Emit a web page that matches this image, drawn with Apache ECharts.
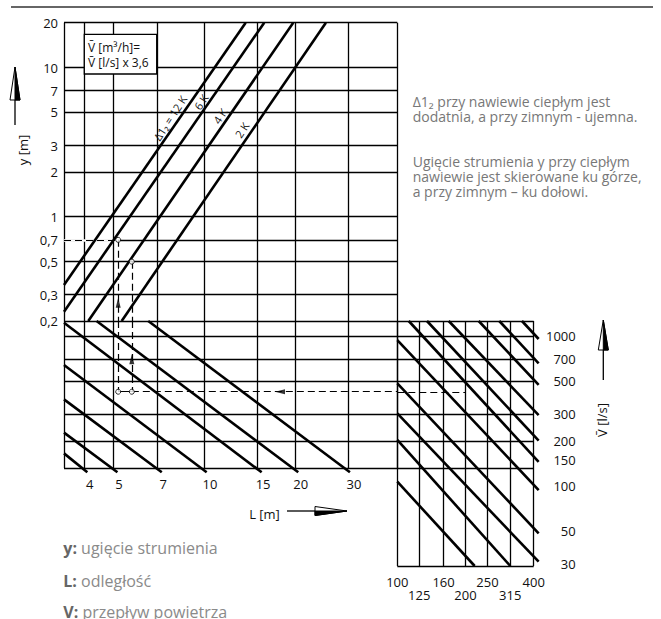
<!DOCTYPE html>
<html><head><meta charset="utf-8">
<script src="https://cdn.jsdelivr.net/npm/echarts@6/dist/echarts.min.js"></script>
<style>html,body{margin:0;padding:0;background:#fff}#c{width:661px;height:619px}</style>
</head><body><div id="c"></div>
<script>
// ---------------- data ----------------
// upper panel: deflection y [m] vs distance L [m]
const lTicks = [4, 5, 7, 10, 15, 20, 30];
const yTicks = [20, 10, 7, 5, 3, 2, 1, 0.7, 0.5, 0.3, 0.2];
// air flow V [l/s] grid lines and labels
const vGridTicks = [1000, 700, 500, 300, 200];
const vTickLabels = [1000, 700, 500, 300, 200, 150, 100, 50, 30];
// size scale of right panel (two label rows)
const dTicks = [100, 125, 160, 200, 250, 315, 400];
const dUpperRow = [100, 160, 250, 400];
const dLowerRow = [125, 200, 315];

// temperature-difference lines (upper panel)
const dtNames = ['Δ1₂ = 12 K', '6 K', '4 K', '2 K'];
const dtStartL = [3.44, 3.44, 4.14, 5.34];
const dtStartY = [0.349, 0.231, 0.2, 0.2];
const dtEndL = [13.75, 15.84, 19.76, 25.35];
const dtEndY = [20, 20, 20, 20];

// constant-L lines (lower left panel)
const lLineNames = [30, 20, 15, 10, 7, 5, 4];
const lLineStartL = [6.54, 4.41, 3.44, 3.44, 3.44, 3.44, 3.44];
const lLineStartV = [1259, 1259, 1227, 641, 378, 227, 165];
const lLineEndL = [30.45, 20.53, 15.53, 10.21, 7.25, 5.17, 4.11];
const lLineEndV = [123.4, 123.4, 123.4, 123.4, 123.4, 123.4, 123.4];

// diagonal lines (right panel)
const dLineStartD = [355, 281.9, 228.7, 168.6, 135.2, 112.3, 100, 100, 100, 100, 100];
const dLineStartV = [1259, 1259, 1259, 1259, 1259, 1259, 940, 484, 305, 203, 107];
const dLineEndD = [420.7, 420.7, 420.7, 420.7, 420.7, 420.7, 420.7, 420.7, 420.7, 315.3, 219.6];
const dLineEndV = [955, 658, 472, 297, 201, 145, 94, 48.4, 31.3, 29.3, 29.3];

// worked example (dashed reading path)
const exampleL = [5.2, 5.77];
const exampleY = [0.7, 0.5];
const exampleV = 425;
const exampleD = 200;
const exampleArrowUpA = [5.2, 0.265];
const exampleArrowUpB = [5.77, 700];
const exampleArrowLeftB = [17.86, 425];

// axis ranges
const L_MIN = 3.44, L_MAX = 43.7;
const Y_MIN = 0.2, Y_MAX = 20;
const V_MAX = 1259, VB_MIN = 131.8, VC_MIN = 29.3;
const D_MIN = 100, D_MAX = 400;

// ---------------- chart ----------------
const FONT = "'Open Sans', 'DejaVu Sans', sans-serif";
const chart = echarts.init(document.getElementById('c'), null, {renderer: 'svg', width: 661, height: 619});

function seg(x1, y1, x2, y2) { return {coords: [[x1, y1], [x2, y2]]}; }
function linesSeries(gi, data, style, z) {
  return {
    type: 'lines', coordinateSystem: 'cartesian2d', xAxisIndex: gi, yAxisIndex: gi,
    polyline: false, silent: true, clip: false, z: z, animation: false,
    lineStyle: Object.assign({color: '#000', width: 1.3, opacity: 1, curveness: 0}, style),
    data: data
  };
}

// grid lines
const gridA = [], gridB = [], gridC = [];
[L_MIN].concat(lTicks, [L_MAX]).forEach(l => {
  gridA.push(seg(l, Y_MIN, l, Y_MAX));
  gridB.push(seg(l, VB_MIN, l, V_MAX));
});
yTicks.forEach(y => gridA.push(seg(L_MIN, y, L_MAX, y)));
vGridTicks.concat([VB_MIN]).forEach(v => gridB.push(seg(L_MIN, v, L_MAX, v)));
dTicks.forEach(d => gridC.push(seg(d, VC_MIN, d, V_MAX)));
[V_MAX].concat(vGridTicks, [VB_MIN, VC_MIN]).forEach(v => gridC.push(seg(D_MIN, v, D_MAX, v)));

// curves
const dtLines = dtNames.map((n, i) => seg(dtStartL[i], dtStartY[i], dtEndL[i], dtEndY[i]));
const lLines = lLineNames.map((n, i) => seg(lLineStartL[i], lLineStartV[i], lLineEndL[i], lLineEndV[i]));
const dLines = dLineStartD.map((d, i) => seg(d, dLineStartV[i], dLineEndD[i], dLineEndV[i]));

const dash = {type: [7, 4], width: 1.2};

const series = [
  linesSeries(0, gridA, {}, 1),
  linesSeries(1, gridB, {}, 1),
  linesSeries(2, gridC, {}, 1),
  // white underlay for dashed line on 0.7
  linesSeries(0, [seg(L_MIN, exampleY[0], exampleL[0], exampleY[0])], {color: '#fff', width: 2.6}, 2),
  linesSeries(0, [
    seg(L_MIN, exampleY[0], exampleL[0], exampleY[0]),
    seg(L_MIN, exampleY[1], exampleL[1], exampleY[1]),
    seg(exampleL[0], exampleY[0], exampleL[0], Y_MIN),
    seg(exampleL[1], exampleY[1], exampleL[1], Y_MIN)
  ], dash, 3),
  linesSeries(1, [
    seg(exampleL[0], V_MAX, exampleL[0], exampleV),
    seg(exampleL[1], V_MAX, exampleL[1], exampleV),
    seg(exampleL[1], exampleV, L_MAX, exampleV)
  ], dash, 3),
  linesSeries(1, [seg(exampleL[0], exampleV, exampleL[1], exampleV)], {width: 1}, 3),
  linesSeries(2, [seg(D_MIN, exampleV, exampleD, exampleV)], dash, 3),
  linesSeries(0, dtLines, {width: 2.6}, 4),
  linesSeries(1, lLines, {width: 2.6}, 4),
  linesSeries(2, dLines, {width: 2.6}, 4),
  {type: 'scatter', xAxisIndex: 0, yAxisIndex: 0, silent: true, z: 6, animation: false, clip: false,
   symbol: 'circle', symbolSize: 5, itemStyle: {color: '#fff', borderColor: '#000', borderWidth: 1},
   data: exampleL.map((l, i) => [l, exampleY[i]])},
  {type: 'scatter', xAxisIndex: 1, yAxisIndex: 1, silent: true, z: 6, animation: false, clip: false,
   symbol: 'circle', symbolSize: 5, itemStyle: {color: '#fff', borderColor: '#000', borderWidth: 1},
   data: exampleL.map(l => [l, exampleV])},
  {type: 'scatter', xAxisIndex: 0, yAxisIndex: 0, silent: true, z: 6, animation: false, clip: false,
   symbol: 'triangle', symbolSize: [5, 10], itemStyle: {color: '#000'}, data: [exampleArrowUpA]},
  {type: 'scatter', xAxisIndex: 1, yAxisIndex: 1, silent: true, z: 6, animation: false, clip: false,
   symbol: 'triangle', symbolSize: [5, 10], itemStyle: {color: '#000'}, data: [exampleArrowUpB]},
  {type: 'scatter', xAxisIndex: 1, yAxisIndex: 1, silent: true, z: 6, animation: false, clip: false,
   symbol: 'triangle', symbolSize: [5, 10], symbolRotate: 90, itemStyle: {color: '#000'}, data: [exampleArrowLeftB]}
];

const lblBase = {color: '#111', fontSize: 13, fontFamily: FONT, showMinLabel: true, showMaxLabel: true};
const fmtComma = v => String(+(+v).toPrecision(3)).replace('.', ',');

function txt(x, y, text, opt) {
  opt = opt || {};
  const va = opt.valign || 'middle';
  return {
    type: 'text', x: x, y: y, rotation: opt.rot || 0, silent: true, z: 10,
    style: Object.assign({
      text: text, font: (opt.weight || 'normal') + ' ' + (opt.size || 13) + 'px ' + FONT,
      fill: opt.color || '#111', align: opt.align || 'left', verticalAlign: va,
      textAlign: opt.align || 'left', textVerticalAlign: va
    }, opt.extra || {})
  };
}
function upArrow(x, yTip, yBase, yTail, hw) {
  return [
    {type: 'line', shape: {x1: x, y1: yBase, x2: x, y2: yTail}, style: {stroke: '#000', lineWidth: 1.3}, silent: true},
    {type: 'polygon', shape: {points: [[x, yTip], [x - hw, yBase], [x + hw, yBase]]}, style: {fill: '#fff', stroke: '#000', lineWidth: 1}, silent: true},
    {type: 'polygon', shape: {points: [[x, yTip], [x, yBase], [x + hw, yBase]]}, style: {fill: '#000', stroke: '#000', lineWidth: 1}, silent: true}
  ];
}
function rightArrow(y, xTail, xBase, xTip, hh) {
  return [
    {type: 'line', shape: {x1: xTail, y1: y, x2: xBase, y2: y}, style: {stroke: '#000', lineWidth: 1.3}, silent: true},
    {type: 'polygon', shape: {points: [[xTip, y], [xBase, y - hh], [xBase, y + hh]]}, style: {fill: '#fff', stroke: '#000', lineWidth: 1}, silent: true},
    {type: 'polygon', shape: {points: [[xTip, y], [xBase, y], [xBase, y + hh]]}, style: {fill: '#000', stroke: '#000', lineWidth: 1}, silent: true}
  ];
}

const rot = 57 * Math.PI / 180;
const legendRich = {rich: {b: {fontWeight: 'bold', fill: '#666', fontSize: 16, fontFamily: FONT}}};
const graphics = [
  {type: 'line', shape: {x1: 11, y1: 7, x2: 653, y2: 7}, style: {stroke: '#333', lineWidth: 1.5}, silent: true},
  txt(23, 150, 'y [m]', {rot: Math.PI / 2, align: 'center'}),
  ...upArrow(15, 67, 100, 125, 5),
  txt(264.5, 514, 'L [m]', {align: 'center'}),
  ...rightArrow(511, 287, 315, 347, 4.5),
  txt(602, 420, 'V\u0304 [l/s]', {rot: Math.PI / 2, align: 'center'}),
  ...upArrow(603.3, 320, 350, 380, 5),
  {type: 'rect', shape: {x: 84.3, y: 34.3, width: 72.4, height: 39.7}, style: {fill: '#fff', stroke: '#000', lineWidth: 1.3}, z: 9, silent: true},
  txt(88, 47, 'V\u0304 [m³/h]=', {size: 12}),
  txt(88, 62.5, 'V\u0304 [l/s] x 3,6', {size: 12}),
  txt(170, 118, dtNames[0], {rot: rot, align: 'center', size: 11}),
  txt(201, 102, dtNames[1], {rot: rot, align: 'center', size: 11}),
  txt(220, 116, dtNames[2], {rot: rot, align: 'center', size: 11}),
  txt(241.7, 130, dtNames[3], {rot: rot, align: 'center', size: 11}),
  txt(412.7, 94.2, 'Δ1₂ przy nawiewie ciepłym jest\ndodatnia, a przy zimnym - ujemna.',
      {color: '#777', size: 14, valign: 'top', extra: {lineHeight: 15}}),
  txt(412.7, 154.2, 'Ugięcie strumienia y przy ciepłym\nnawiewie jest skierowane ku górze,\na przy zimnym – ku dołowi.',
      {color: '#777', size: 14, valign: 'top', extra: {lineHeight: 15}}),
  txt(63.3, 548.3, '{b|y:} ugięcie strumienia', {size: 16, color: '#8a8a8a', extra: legendRich}),
  txt(63.3, 580.5, '{b|L:} odległość', {size: 16, color: '#8a8a8a', extra: legendRich}),
  txt(63.3, 611.7, '{b|V:} przepływ powietrza', {size: 16, color: '#8a8a8a', extra: legendRich})
];

const hiddenAxisParts = {axisLine: {show: false}, axisTick: {show: false}, splitLine: {show: false}};
const option = {
  animation: false,
  backgroundColor: '#fff',
  grid: [
    {left: 64, top: 22.7, width: 333.3, height: 298.3},
    {left: 64, top: 321, width: 333.3, height: 147},
    {left: 397.3, top: 321, width: 136.4, height: 245}
  ],
  xAxis: [
    {gridIndex: 0, type: 'log', min: L_MIN, max: L_MAX, show: false},
    Object.assign({gridIndex: 1, type: 'log', min: L_MIN, max: L_MAX, position: 'bottom',
     axisLabel: Object.assign({customValues: lTicks, margin: 9, padding: [0, 0, 0, 12]}, lblBase)}, hiddenAxisParts),
    Object.assign({gridIndex: 2, type: 'log', min: D_MIN * 0.9999, max: D_MAX * 1.0001, position: 'bottom',
     axisLabel: Object.assign({customValues: dUpperRow, margin: 9,
       formatter: v => String(Math.round(v))}, lblBase)}, hiddenAxisParts),
    Object.assign({gridIndex: 2, type: 'log', min: D_MIN * 0.9999, max: D_MAX * 1.0001, position: 'bottom', offset: 0,
     axisLabel: Object.assign({customValues: dLowerRow, margin: 22,
       formatter: v => String(Math.round(v))}, lblBase)}, hiddenAxisParts)
  ],
  yAxis: [
    Object.assign({gridIndex: 0, type: 'log', min: Y_MIN * 0.9999, max: Y_MAX * 1.0001, position: 'left',
     axisLabel: Object.assign({customValues: yTicks, margin: 6, formatter: fmtComma}, lblBase)}, hiddenAxisParts),
    {gridIndex: 1, type: 'log', min: VB_MIN, max: V_MAX, show: false},
    Object.assign({gridIndex: 2, type: 'log', min: VC_MIN, max: V_MAX, position: 'right',
     axisLabel: Object.assign({customValues: vTickLabels, margin: 42, align: 'right',
       formatter: v => String(Math.round(v))}, lblBase)}, hiddenAxisParts)
  ],
  series: series,
  graphic: graphics
};
chart.setOption(option);
</script></body></html>
